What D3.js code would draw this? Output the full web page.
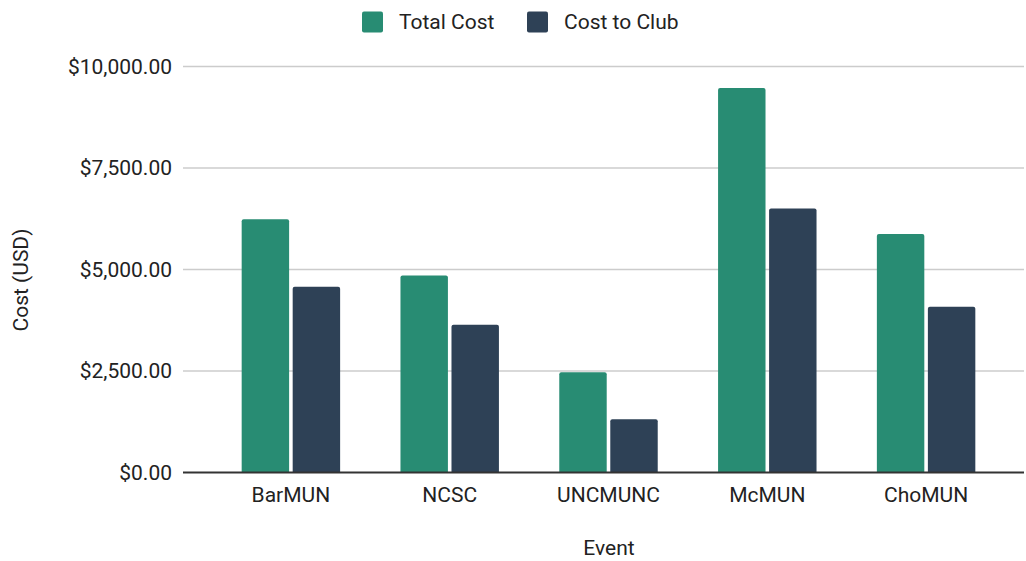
<!DOCTYPE html>
<html>
<head>
<meta charset="utf-8">
<script src="https://cdn.jsdelivr.net/npm/d3@7"></script>
<style>
  body { margin: 0; background: #fff; }
  text { font-family: Roboto, "Noto Sans", sans-serif; fill: #222; }
</style>
</head>
<body>
<div id="chart"></div>
<script>
// data
const events = ["BarMUN", "NCSC", "UNCMUNC", "McMUN", "ChoMUN"]
const seriesNames = ["Total Cost", "Cost to Club"]
const totalCost = [6240, 4850, 2470, 9470, 5875]
const costToClub = [4575, 3640, 1310, 6505, 4085]
const yTicks = [0, 2500, 5000, 7500, 10000]
const colors = ["#288c73", "#2e4156"]

const width = 1026
const height = 561
const margin = { left: 183, right: 2, top: 66.5, bottom: 88.5 }
const fontSize = "21px"

const rows = events.map((e, i) => ({ event: e, values: [totalCost[i], costToClub[i]] }))

const svg = d3.select("#chart").append("svg")
  .attr("width", width)
  .attr("height", height)

const y = d3.scaleLinear()
  .domain([0, 10000])
  .range([height - margin.bottom, margin.top])

const x = d3.scaleBand()
  .domain(events)
  .range([211.5, 1005.5])
  .paddingInner(0.38)
  .paddingOuter(0.19)

const xInner = d3.scaleBand()
  .domain([0, 1])
  .range([0, x.bandwidth()])
  .paddingInner(0.07)

const fmt = d => "$" + d3.format(",.2f")(d)

// gridlines
svg.append("g")
  .selectAll("line")
  .data(yTicks.filter(d => d > 0))
  .enter()
  .append("line")
  .attr("x1", margin.left)
  .attr("x2", width - margin.right)
  .attr("y1", d => y(d))
  .attr("y2", d => y(d))
  .attr("stroke", "#cccccc")
  .attr("stroke-width", 1.5)

// y tick labels
svg.append("g")
  .selectAll("text")
  .data(yTicks)
  .enter()
  .append("text")
  .attr("x", 172)
  .attr("y", d => y(d))
  .attr("dy", "0.35em")
  .attr("text-anchor", "end")
  .style("font-size", fontSize)
  .text(fmt)

// bars with rounded tops
function barPath(x0, w, yTop, yBase, r) {
  return `M${x0},${yBase} V${yTop + r} Q${x0},${yTop} ${x0 + r},${yTop} H${x0 + w - r} Q${x0 + w},${yTop} ${x0 + w},${yTop + r} V${yBase} Z`
}

const group = svg.append("g")
  .selectAll("g")
  .data(rows)
  .enter()
  .append("g")
  .attr("transform", d => `translate(${x(d.event)},0)`)

group.selectAll("path")
  .data(d => d.values.map((v, i) => ({ v, i })))
  .enter()
  .append("path")
  .attr("fill", d => colors[d.i])
  .attr("d", d => barPath(xInner(d.i), xInner.bandwidth(), y(d.v), y(0), 2))

// baseline
svg.append("line")
  .attr("x1", margin.left)
  .attr("x2", width - margin.right)
  .attr("y1", y(0))
  .attr("y2", y(0))
  .attr("stroke", "#333")
  .attr("stroke-width", 2)

// x tick labels
svg.append("g")
  .selectAll("text")
  .data(events)
  .enter()
  .append("text")
  .attr("x", d => x(d) + x.bandwidth() / 2)
  .attr("y", 502)
  .attr("text-anchor", "middle")
  .style("font-size", fontSize)
  .text(d => d)

// axis titles
svg.append("text")
  .attr("x", 609)
  .attr("y", 555)
  .attr("text-anchor", "middle")
  .style("font-size", fontSize)
  .text("Event")

svg.append("text")
  .attr("transform", "translate(28,280) rotate(-90)")
  .attr("text-anchor", "middle")
  .style("font-size", fontSize)
  .text("Cost (USD)")

// legend
const legendX = [362, 527]
const legend = svg.append("g")
  .selectAll("g")
  .data(seriesNames)
  .enter()
  .append("g")
  .attr("transform", (d, i) => `translate(${legendX[i]},11.5)`)

legend.append("rect")
  .attr("width", 21)
  .attr("height", 21)
  .attr("rx", 2)
  .attr("fill", (d, i) => colors[i])

legend.append("text")
  .attr("x", 37)
  .attr("y", 10.5)
  .attr("dy", "0.35em")
  .style("font-size", fontSize)
  .text(d => d)
</script>
</body>
</html>
